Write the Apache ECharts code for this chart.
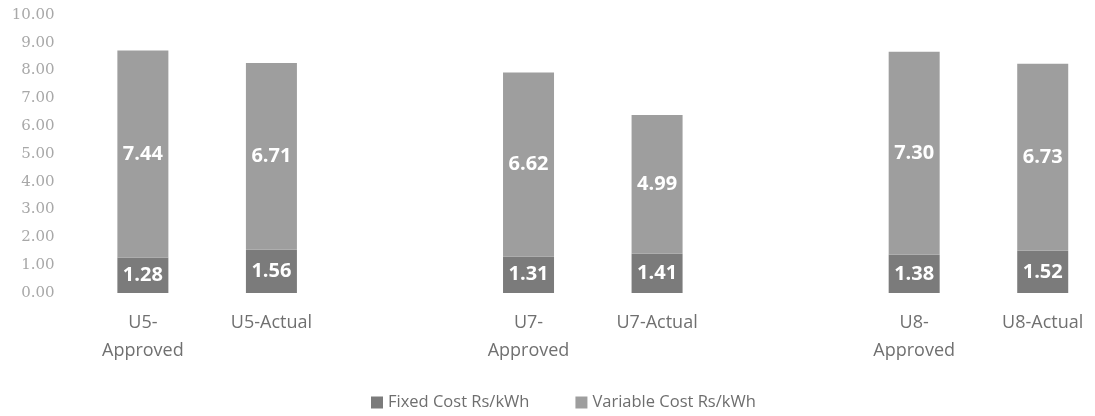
<!DOCTYPE html>
<html>
<head>
<meta charset="utf-8">
<style>
html,body{margin:0;padding:0;background:#fff;overflow:hidden;width:1095px;height:416px;}
#c{width:1120px;height:416px;}
</style>
<script src="https://cdn.jsdelivr.net/npm/echarts@6/dist/echarts.min.js"></script>
</head>
<body>
<div id="c"></div>
<script>
var categories = ['U5-\nApproved', 'U5-Actual', '', 'U7-\nApproved', 'U7-Actual', '', 'U8-\nApproved', 'U8-Actual'];
var fixedCost = [1.28, 1.56, '-', 1.31, 1.41, '-', 1.38, 1.52];
var variableCost = [7.44, 6.71, '-', 6.62, 4.99, '-', 7.30, 6.73];
var yTicks = [0, 1, 2, 3, 4, 5, 6, 7, 8, 9, 10];

var chart = echarts.init(document.getElementById('c'));
var labelStyle = {
  show: true,
  position: 'inside',
  color: '#ffffff',
  fontWeight: 'bold',
  fontSize: 20,
  fontFamily: 'Open Sans',
  formatter: function (p) { return Number(p.value).toFixed(2); }
};
chart.setOption({
  animation: false,
  backgroundColor: '#ffffff',
  grid: { left: 78.6, top: 15, width: 1028.4, height: 278, containLabel: false },
  legend: {
    top: 389,
    left: 366,
    itemWidth: 12,
    itemHeight: 12,
    itemGap: 46,
    icon: 'rect',
    textStyle: { color: '#6e6e6e', fontSize: 16.5, fontFamily: 'Open Sans' },
    data: ['Fixed Cost Rs/kWh', 'Variable Cost Rs/kWh']
  },
  xAxis: {
    type: 'category',
    data: categories,
    axisLine: { show: false },
    axisTick: { show: false },
    axisLabel: {
      interval: 0,
      margin: 16,
      color: '#707070',
      fontSize: 18,
      lineHeight: 28,
      fontFamily: 'Open Sans'
    }
  },
  yAxis: {
    type: 'value',
    min: yTicks[0],
    max: yTicks[yTicks.length - 1],
    interval: 1,
    axisLine: { show: false },
    axisTick: { show: false },
    splitLine: { show: false },
    axisLabel: {
      margin: 24,
      color: '#a8a8a8',
      fontSize: 15,
      fontFamily: 'DejaVu Serif',
      formatter: function (v) { return v.toFixed(2); }
    }
  },
  series: [
    {
      name: 'Fixed Cost Rs/kWh',
      type: 'bar',
      stack: 'cost',
      barWidth: 51,
      itemStyle: { color: '#7b7b7b' },
      label: labelStyle,
      data: fixedCost
    },
    {
      name: 'Variable Cost Rs/kWh',
      type: 'bar',
      stack: 'cost',
      barWidth: 51,
      itemStyle: { color: '#9e9e9e' },
      label: labelStyle,
      data: variableCost
    }
  ]
});
</script>
</body>
</html>
